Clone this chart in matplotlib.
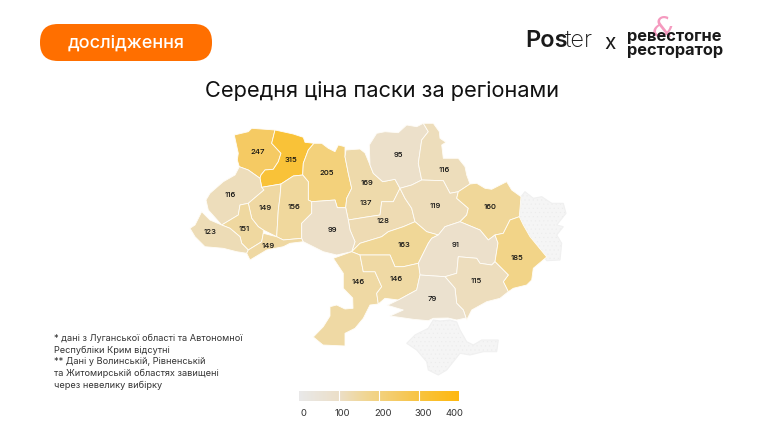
import matplotlib
matplotlib.use("Agg")
import matplotlib.pyplot as plt
import numpy as np
from matplotlib.colors import LinearSegmentedColormap, Normalize
from matplotlib.patches import FancyBboxPatch, Polygon

FONT = ["Inter", "DejaVu Sans"]

REGIONS = ["Волинська", "Рівненська", "Житомирська", "Київ", "Київська", "Черкаська",
           "Львівська", "Тернопільська", "Хмельницька", "Івано-Франківська", "Закарпатська",
           "Чернівецька", "Вінницька", "Чернігівська", "Сумська", "Полтавська", "Харківська",
           "Кіровоградська", "Дніпропетровська", "Донецька", "Одеська", "Миколаївська",
           "Запорізька", "Херсонська"]
PRICES = [247, 315, 205, 169, 137, 128,
          116, 149, 156, 151, 123,
          149, 99, 95, 116, 119, 160,
          163, 91, 185, 146, 146,
          115, 79]
NO_DATA = ["Луганська", "Крим"]

COLORBAR_TICKS = [0, 100, 200, 300, 400]
NOTE = ("* дані з Луганської області та Автономної\n"
        "Республіки Крим відсутні\n"
        "** Дані у Волинській, Рівненській\n"
        "та Житомирській областях завищені\n"
        "через невелику вибірку")

# контури областей, снято з картинки (пікселі)
OUTLINES = {
    "Волинська": [(234.3, 135), (248.3, 131.7), (251.7, 128.3), (275, 130), (271.7, 143.3), (281, 153.3), (278.3, 161.7),
                  (273.3, 169.3), (265, 170), (261, 175), (260, 178.3), (248.3, 170), (239.3, 166.7), (237.3, 160), (238.3, 153.3)],
    "Рівненська": [(275, 130), (293.3, 134), (303.3, 137.3), (305, 142.3), (314, 143.3), (308.3, 150), (303.3, 163.3),
                   (302.7, 175), (293.3, 176), (281, 184), (261.7, 187.3), (260, 178.3), (261, 175), (265, 170), (273.3, 169.3),
                   (278.3, 161.7), (281, 153.3), (271.7, 143.3)],
    "Житомирська": [(314, 143.3), (321.7, 143.3), (328.3, 148.3), (335, 151.7), (338.3, 145), (345, 146.7), (345, 156.7),
                    (348.3, 173.3), (351.7, 188.3), (346.7, 198.3), (345.7, 207.7), (337.3, 207.7), (335, 200), (311.7, 201.7),
                    (308.3, 200), (308.3, 181.7), (302.7, 175), (303.3, 163.3), (308.3, 150)],
    "Київська": [(345, 156.7), (346, 150), (360, 149), (365, 153), (370, 165), (373.3, 173.3), (382.7, 181.7), (395, 179.3),
                 (400, 188.3), (393.3, 201.7), (381.7, 201.7), (380, 215), (366.7, 217), (348.3, 220), (345.7, 207.7),
                 (346.7, 198.3), (351.7, 188.3), (348.3, 173.3)],
    "Київ": [(361.7, 180), (366.7, 175), (371.7, 178.3), (373.3, 186.7), (368.3, 196.7), (365, 188.3)],
    "Черкаська": [(348.3, 220), (366.7, 217), (380, 215), (381.7, 201.7), (393.3, 201.7), (400, 188.3), (405, 198.3),
                  (411.7, 208.3), (415, 221.7), (403.3, 226.7), (388.3, 231.7), (381.7, 236.7), (360, 243.3), (351.7, 251.7),
                  (355, 241.7), (350, 230)],
    "Львівська": [(206, 200), (210, 193.3), (223.3, 181.7), (235, 175), (239.3, 166.7), (248.3, 170), (260, 178.3), (261.7, 187.3),
                  (264, 190), (248.3, 203.3), (240, 205), (238.3, 215), (221.7, 225), (208.3, 210)],
    "Тернопільська": [(261.7, 187.3), (281, 184), (280, 196.7), (278.3, 210), (276.7, 236.7), (263.3, 230), (258.3, 226.7),
                      (251.7, 218.3), (248.3, 203.3), (264, 190)],
    "Хмельницька": [(281, 184), (293.3, 176), (302.7, 175), (308.3, 181.7), (308.3, 200), (311.7, 201.7), (311.7, 213.3),
                    (301.7, 223.3), (301.7, 238.3), (283.3, 240), (276.7, 236.7), (278.3, 210), (280, 196.7)],
    "Івано-Франківська": [(240, 205), (248.3, 203.3), (251.7, 218.3), (258.3, 226.7), (263.3, 230), (263.3, 233.3), (261.7, 241.7),
                          (248.3, 250), (241.7, 243.3), (240, 236.7), (230, 228.3), (221.7, 225), (238.3, 215)],
    "Закарпатська": [(201.7, 211.7), (210, 220), (221.7, 225), (230, 228.3), (240, 236.7), (241.7, 243.3), (248.3, 250), (246.7, 253.3),
                     (236.7, 251.7), (223.3, 248.3), (205, 246.7), (195, 236.7), (190, 228.3), (195, 225)],
    "Чернівецька": [(263.3, 233.3), (276.7, 236.7), (283.3, 240), (301.7, 238.3), (303.3, 241.7), (290, 243.3), (283.3, 246.7),
                    (266.7, 250), (250, 260), (246.7, 253.3), (248.3, 250), (261.7, 241.7)],
    "Вінницька": [(311.7, 201.7), (335, 200), (337.3, 207.7), (345.7, 207.7), (348.3, 220), (350, 230), (355, 241.7), (351.7, 251.7),
                  (336.7, 255), (323.3, 251.7), (303.3, 241.7), (301.7, 238.3), (301.7, 223.3), (311.7, 213.3)],
    "Чернігівська": [(369.3, 145), (376.7, 133.3), (385, 131.7), (398.3, 132.7), (406.7, 125), (416.7, 126.7), (423.3, 123.3),
                     (428.3, 131.7), (421.7, 140), (418.3, 163.3), (421.7, 180), (411.7, 185), (400, 188.3), (395, 179.3),
                     (382.7, 181.7), (373.3, 173.3), (370, 165)],
    "Сумська": [(423.3, 123.3), (433.3, 123.3), (439.3, 131.7), (440, 138.3), (446, 142.3), (441.7, 145), (443.3, 158.3), (458.3, 158.3),
                (465, 166.7), (466.7, 175), (470, 184), (458.3, 191.7), (450, 193.3), (443.3, 180.7), (421.7, 180), (418.3, 163.3),
                (421.7, 140), (428.3, 131.7)],
    "Полтавська": [(400, 188.3), (411.7, 185), (421.7, 180), (443.3, 180.7), (450, 193.3), (458.3, 191.7), (456.7, 198.3), (468.3, 208.3),
                   (466.7, 215), (460, 221.7), (445, 226.7), (438.3, 235), (426.7, 231.7), (415, 221.7), (411.7, 208.3), (405, 198.3)],
    "Харківська": [(458.3, 191.7), (470, 184), (476.7, 183.3), (485, 188.3), (491.7, 189.3), (506.7, 181.7), (511.7, 190), (521, 196.7),
                   (519.3, 216.7), (510, 220), (503.3, 233.3), (495, 235), (488.3, 240), (480, 230), (460, 221.7), (466.7, 215),
                   (468.3, 208.3), (456.7, 198.3)],
    "Кіровоградська": [(415, 221.7), (426.7, 231.7), (438.3, 235), (431.7, 238.3), (428.3, 243.3), (418.3, 263.3), (403.3, 266.7),
                       (395, 266.7), (390, 255), (360, 255), (351.7, 251.7), (360, 243.3), (381.7, 236.7), (388.3, 231.7), (403.3, 226.7)],
    "Дніпропетровська": [(438.3, 235), (445, 226.7), (460, 221.7), (480, 230), (488.3, 240), (495, 235), (498, 243), (495, 261.7),
                         (491.7, 265), (480, 263.3), (476.7, 258.3), (458.3, 256.7), (456.7, 273.3), (445, 276.7), (420, 275),
                         (418.3, 263.3), (428.3, 243.3), (431.7, 238.3)],
    "Донецька": [(519.3, 216.7), (523.3, 225), (530, 236.7), (546.7, 257), (533.3, 268.3), (531.7, 280), (526.7, 285), (513.3, 288.3),
                 (508.3, 291.7), (503.3, 281.7), (508.3, 275), (495, 261.7), (498, 243), (495, 235), (503.3, 233.3), (510, 220)],
    "Одеська": [(333.3, 258.3), (351.7, 251.7), (360, 255), (363.3, 271.7), (375, 271.7), (381.7, 286.7), (376.7, 293.3), (378.3, 304),
                (370, 305), (363.3, 318.3), (355, 328.3), (345, 333.3), (345, 346), (323, 345), (313.3, 337), (323.3, 326.7),
                (330, 316), (330, 306.7), (336.7, 305), (345, 309), (353, 308.3), (352.7, 298), (343.3, 288.3), (343.3, 273.3)],
    "Миколаївська": [(360, 255), (390, 255), (395, 266.7), (403.3, 266.7), (418.3, 263.3), (420, 275), (416.7, 290), (398.3, 300),
                     (385, 298.3), (378.3, 304), (376.7, 293.3), (381.7, 286.7), (375, 271.7), (363.3, 271.7)],
    "Запорізька": [(458.3, 256.7), (476.7, 258.3), (480, 263.3), (491.7, 265), (495, 261.7), (508.3, 275), (503.3, 281.7), (508.3, 291.7),
                   (500, 298.3), (486.7, 301.7), (471.7, 310), (466.7, 320), (463.3, 310), (456.7, 303.3), (455, 288.3), (445, 276.7),
                   (456.7, 273.3)],
    "Херсонська": [(420, 275), (445, 276.7), (455, 288.3), (456.7, 303.3), (463.3, 310), (466, 318), (456.7, 320), (448, 318),
                   (433.3, 318.3), (428.3, 320.7), (413.3, 319.3), (390, 316), (403.3, 310), (387.3, 305.3), (398.3, 300), (416.7, 290)],
    "Луганська": [(521, 196.7), (525, 191.7), (533.3, 198.3), (541.7, 196.7), (551.7, 203.3), (563.3, 203.3), (566, 213.3), (556.7, 225),
                  (563.3, 226.7), (556.7, 235), (561.7, 243.3), (560, 260), (546.7, 260.7), (530, 236.7), (523.3, 225), (519.3, 216.7)],
    "Крим": [(406.7, 343.3), (415, 335), (428.3, 328.3), (433.3, 320), (440, 321), (450, 320), (456.7, 322), (460, 330), (466.7, 341.7),
             (473.3, 345), (481.7, 340), (498.3, 340), (496.7, 351.7), (483.3, 351.7), (470, 355), (460, 353.3), (446.7, 370),
             (438.3, 375), (428.3, 370), (426.7, 361.7), (416.7, 350)],
}

LABEL_XY = [(258, 152), (291, 160), (327, 173), (367, 183), (366, 203), (383, 221),
            (230, 195), (265, 208), (294, 207), (244, 229), (210, 232),
            (268, 246), (332, 230), (398, 155), (444, 170), (435, 206), (490, 207),
            (404, 245), (456, 245), (517, 258), (358, 282), (396, 279),
            (476, 281), (432, 299)]

cmap = LinearSegmentedColormap.from_list("price", [
    (0.0, "#E9E9E9"), (0.25, "#ECDFC8"), (0.40, "#F0D799"), (0.51, "#F3D17C"),
    (0.62, "#F5CA63"), (0.79, "#F9C238"), (1.0, "#FFB80F")])
norm = Normalize(0, 400)

fig = plt.figure(figsize=(7.64, 4.30), dpi=100)
ax = fig.add_axes([0, 0, 1, 1])
ax.set_xlim(0, 764)
ax.set_ylim(430, 0)
ax.axis("off")

plt.rcParams["hatch.linewidth"] = 0.3
for name in NO_DATA:
    ax.add_patch(Polygon(OUTLINES[name], facecolor="#F5F5F5", edgecolor="#ECECEC", hatch="....", lw=0))
    ax.add_patch(Polygon(OUTLINES[name], facecolor="none", edgecolor="#F0F0F0", lw=0.8))

for name, price, (lx, ly) in zip(REGIONS, PRICES, LABEL_XY):
    ax.add_patch(Polygon(OUTLINES[name], facecolor=cmap(norm(price)), edgecolor="#FFFDF8", lw=0.6, joinstyle="round"))
    ax.text(lx, ly, str(price), ha="center", va="center", fontsize=5.6, color="#111111", family=FONT, fontweight="medium")

# кнопка зверху зліва
ax.add_patch(FancyBboxPatch((40, 24), 172, 37, boxstyle="round,pad=0,rounding_size=18",
                            facecolor="#FF6F00", edgecolor="none"))
ax.text(126, 43.5, "дослідження", ha="center", va="center", color="white", fontsize=13, family=FONT, fontweight="medium")

# логотипи
ax.text(525, 41, "Pos", ha="left", va="center", fontsize=17, family=FONT, fontweight="semibold", color="#1A1A1A")
ax.text(565, 41, "ter", ha="left", va="center", fontsize=17, family=FONT, fontweight="light", color="#1A1A1A")
ax.text(610, 43, "x", ha="center", va="center", fontsize=15, family=FONT, color="#1A1A1A")
ax.text(663, 29, "&", ha="center", va="center", fontsize=20, family="DejaVu Sans", style="italic", color="#F59ABF")
ax.text(627, 37, "ревестогне", ha="left", va="center", fontsize=11.8, family=FONT, fontweight="bold", color="#1A1A1A")
ax.text(627, 51, "ресторатор", ha="left", va="center", fontsize=11.8, family=FONT, fontweight="bold", color="#1A1A1A")

ax.text(382, 91, "Середня ціна паски за регіонами", ha="center", va="center", fontsize=15.7, family=FONT, color="#111111")

ax.text(54, 362, NOTE, ha="left", va="center", fontsize=6.6, family=FONT, color="#333333", linespacing=1.35)

# шкала кольорів
grad = np.linspace(0, 400, 256).reshape(1, -1)
ax.imshow(grad, cmap=cmap, norm=norm, extent=(299, 459, 401, 391), aspect="auto", zorder=2)
ax.set_xlim(0, 764)
ax.set_ylim(430, 0)
bar_x = [299 + t * 160 / 400 for t in COLORBAR_TICKS]
for x in bar_x[1:-1]:
    ax.plot([x, x], [391, 401], color="white", lw=0.8, zorder=3)
label_x = [303, 342, 383, 423, 454]
for tick, x in zip(COLORBAR_TICKS, label_x):
    ax.text(x, 413, str(tick), ha="center", va="center", fontsize=6.8, family=FONT, color="#333333")

fig.savefig("out.png", dpi=100)
